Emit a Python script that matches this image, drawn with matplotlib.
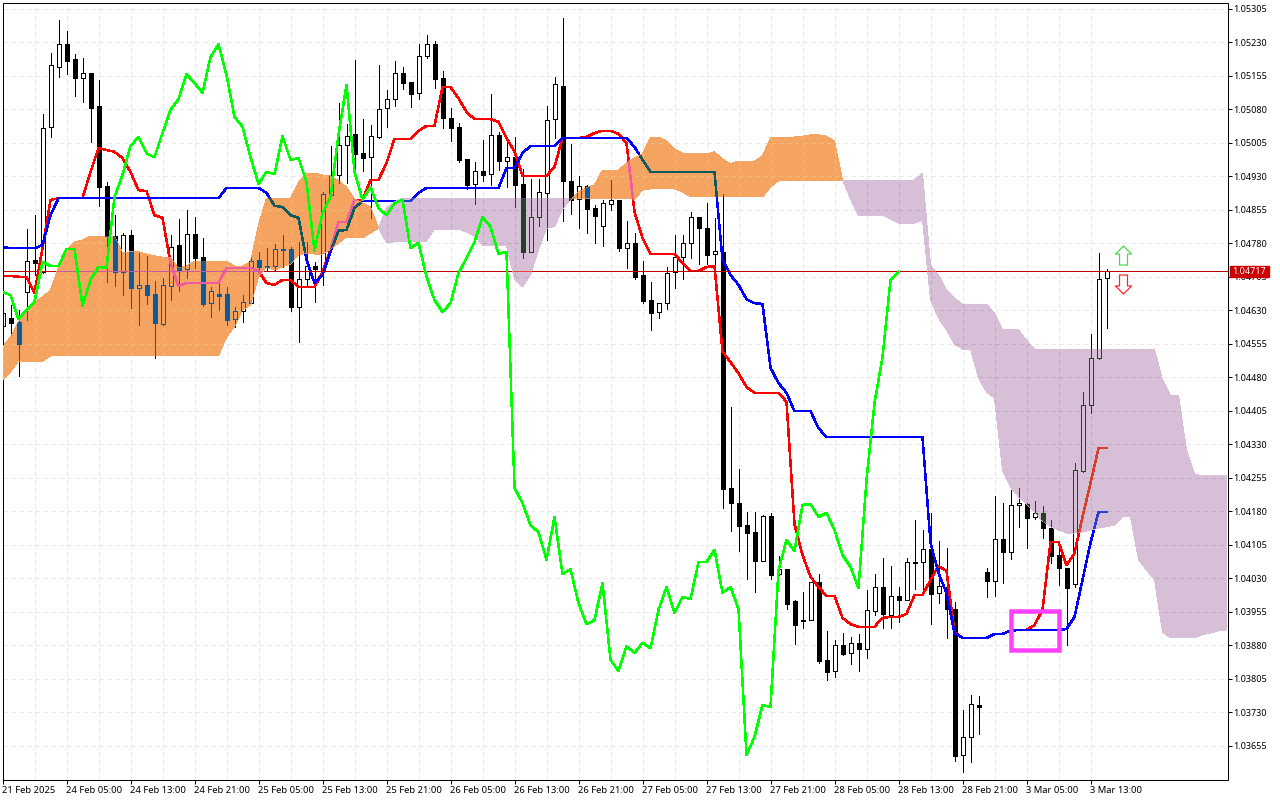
import numpy as np
import matplotlib
matplotlib.use('Agg')
import matplotlib.pyplot as plt
from matplotlib.path import Path
from matplotlib.patches import Rectangle

plt.rcParams['font.family'] = ['Noto Sans', 'DejaVu Sans']

# H1 candles, prices in points (1e-5)
opens = [104595, 104613, 104604, 104671, 104743, 104716, 105041, 105175, 105226, 105193,
         105150, 105161, 105088, 104908, 104796, 104716, 104799, 104680, 104687, 104666,
         104599, 104684, 104776, 104722, 104801, 104749, 104646, 104666, 104666, 104610,
         104628, 104646, 104743, 104729, 104729, 104765, 104767, 104637, 104700, 104729,
         104720, 104888, 104933, 105000, 105025, 104982, 104973, 105018, 105083, 105103,
         105161, 105141, 105117, 105200, 105226, 105150, 105061, 105041, 104969, 104913,
         104942, 104935, 105023, 104964, 104973, 104913, 104761, 104839, 104893, 105058,
         105132, 104920, 104879, 104908, 104859, 104819, 104868, 104877, 104769, 104781,
         104709, 104653, 104626, 104646, 104716, 104749, 104781, 104839, 104814, 104756,
         104761, 104232, 104198, 104149, 104133, 104068, 104169, 104039, 104050, 103979,
         103936, 103936, 104021, 103847, 103822, 103880, 103862, 103885, 103871, 103956,
         104010, 103947, 103990, 103981, 104064, 104066, 104095, 103997, 104010, 103961,
         103634, 103674, 103746, 104044, 104024, 104118, 104089, 104194, 104196, 104167,
         104176, 104142, 104082, 104053, 104017, 104270, 104418, 104523, 104702]
highs = [104640, 104642, 104631, 104812, 104843, 105070, 105206, 105280, 105256, 105204,
         105195, 105161, 105146, 104917, 104843, 104803, 104810, 104758, 104752, 104696,
         104702, 104799, 104834, 104855, 104839, 104792, 104682, 104698, 104682, 104637,
         104664, 104749, 104761, 104769, 104778, 104799, 104772, 104783, 104783, 104738,
         104895, 104998, 105094, 105047, 105191, 105058, 105045, 105179, 105123, 105188,
         105175, 105141, 105226, 105247, 105233, 105166, 105083, 105049, 104969, 104962,
         105011, 105114, 105029, 105005, 105018, 104946, 104924, 104924, 105088, 105153,
         105285, 105002, 104931, 104911, 104866, 104877, 104922, 104877, 104830, 104803,
         104740, 104693, 104646, 104727, 104799, 104799, 104850, 104839, 104870, 104837,
         104890, 104413, 104274, 104178, 104178, 104171, 104176, 104080, 104050, 103981,
         103999, 104021, 104039, 103912, 103891, 103907, 103898, 103905, 104003, 104039,
         104075, 104057, 104010, 104075, 104160, 104138, 104176, 104113, 104097, 103977,
         103735, 103768, 103766, 104053, 104214, 104198, 104227, 104232, 104198, 104203,
         104192, 104160, 104097, 104053, 104288, 104447, 104577, 104758, 104722]
lows = [104575, 104575, 104483, 104608, 104709, 104713, 105018, 105153, 105159, 105110,
        105097, 105007, 104864, 104693, 104684, 104664, 104635, 104597, 104644, 104523,
        104597, 104653, 104673, 104702, 104725, 104640, 104615, 104631, 104597, 104593,
        104604, 104646, 104716, 104720, 104718, 104727, 104628, 104559, 104682, 104649,
        104687, 104884, 104915, 104915, 104946, 104942, 104837, 105016, 105041, 105088,
        105126, 105085, 105103, 105195, 105128, 105038, 105009, 104962, 104902, 104868,
        104920, 104911, 104944, 104906, 104861, 104747, 104761, 104819, 104787, 105016,
        104830, 104846, 104814, 104803, 104781, 104774, 104855, 104763, 104725, 104700,
        104646, 104586, 104613, 104633, 104680, 104700, 104747, 104734, 104734, 104720,
        104187, 104136, 104091, 104028, 103999, 104068, 104028, 104037, 103961, 103882,
        103918, 103936, 103840, 103802, 103809, 103858, 103838, 103822, 103851, 103947,
        103918, 103918, 103932, 103981, 104006, 104003, 103927, 103974, 103896, 103620,
        103596, 103618, 103681, 103988, 103990, 104019, 104073, 104145, 104097, 104162,
        104120, 104064, 104015, 103880, 104010, 104268, 104400, 104521, 104590]
closes = [104624, 104601, 104554, 104740, 104736, 105038, 105179, 105226, 105188, 105150,
          105161, 105083, 104906, 104796, 104716, 104799, 104680, 104687, 104664, 104601,
          104687, 104772, 104720, 104801, 104747, 104644, 104673, 104662, 104608, 104628,
          104649, 104740, 104727, 104727, 104767, 104767, 104637, 104700, 104729, 104722,
          104890, 104933, 105000, 105020, 104980, 104971, 105020, 105081, 105103, 105161,
          105139, 105114, 105200, 105226, 105148, 105061, 105038, 104967, 104911, 104942,
          104933, 105023, 104964, 104973, 104911, 104761, 104839, 104895, 105056, 105137,
          104920, 104877, 104908, 104857, 104841, 104870, 104877, 104769, 104781, 104705,
          104651, 104624, 104646, 104713, 104749, 104781, 104839, 104814, 104754, 104763,
          104230, 104198, 104147, 104131, 104068, 104169, 104037, 104050, 103972, 103925,
          103934, 104021, 103844, 103820, 103880, 103860, 103885, 103871, 103959, 104010,
          103950, 103990, 103981, 104066, 104066, 104095, 103994, 104012, 103961, 103632,
          103674, 103748, 103741, 104024, 104118, 104089, 104194, 104198, 104165, 104176,
          104142, 104080, 104053, 104008, 104272, 104418, 104523, 104700, 104717]

# Ichimoku lines
tenkan = [104707, 104707, 104705, 104705, 104669, 104769, 104877, 104881, 104881, 104881,
          104881, 104940, 104993, 104989, 104985, 104971, 104940, 104899, 104897, 104843,
          104837, 104736, 104684, 104691, 104691, 104691, 104691, 104691, 104725, 104725,
          104725, 104725, 104718, 104691, 104687, 104698, 104698, 104682, 104682, 104682,
          104716, 104765, 104828, 104828, 104877, 104877, 104922, 104922, 104960, 105014,
          105014, 105014, 105032, 105043, 105043, 105130, 105130, 105105, 105074, 105058,
          105058, 105058, 105052, 105016, 104985, 104931, 104931, 104931, 104931, 104951,
          105016, 105016, 105016, 105018, 105027, 105032, 105032, 105025, 105005, 104850,
          104792, 104756, 104756, 104756, 104756, 104736, 104718, 104718, 104727, 104729,
          104537, 104514, 104489, 104458, 104445, 104445, 104445, 104445, 104425, 104151,
          104082, 104033, 104010, 103990, 103990, 103941, 103927, 103921, 103921, 103921,
          103941, 103943, 103943, 103950, 103992, 103992, 104026, 104057, 104046, 103909,
          103896, 103896, 103896, 103896, 103905, 103905, 103912, 103914, 103914, 103925,
          103959, 104111, 104111, 104059, 104086, 104167, 104243, 104321, 104321]
kijun = [104772, 104769, 104769, 104769, 104769, 104776, 104843, 104881, 104881, 104881,
         104881, 104881, 104881, 104881, 104881, 104881, 104881, 104881, 104881, 104881,
         104881, 104881, 104881, 104881, 104881, 104881, 104881, 104881, 104904, 104904,
         104904, 104904, 104904, 104893, 104864, 104861, 104843, 104837, 104743, 104691,
         104709, 104761, 104808, 104810, 104859, 104875, 104875, 104875, 104875, 104875,
         104875, 104875, 104893, 104904, 104904, 104904, 104904, 104904, 104904, 104904,
         104904, 104904, 104904, 104949, 104949, 104982, 104998, 104998, 104998, 104998,
         105016, 105016, 105016, 105016, 105016, 105016, 105016, 105016, 105016, 104996,
         104967, 104940, 104940, 104940, 104940, 104940, 104940, 104940, 104940, 104940,
         104743, 104709, 104687, 104655, 104646, 104644, 104501, 104467, 104445, 104404,
         104404, 104404, 104366, 104346, 104346, 104346, 104346, 104346, 104346, 104346,
         104346, 104346, 104346, 104346, 104346, 104346, 104109, 104041, 103997, 103907,
         103896, 103896, 103896, 103896, 103905, 103905, 103912, 103914, 103914, 103914,
         103914, 103914, 103914, 103916, 103943, 104026, 104109, 104178, 104178]
chikou = [104671, 104664, 104610, 104631, 104649, 104738, 104729, 104729, 104767, 104767,
          104640, 104698, 104727, 104725, 104884, 104933, 104998, 105018, 104982, 104973,
          105027, 105079, 105103, 105159, 105139, 105117, 105197, 105226, 105157, 105063,
          105041, 104973, 104913, 104940, 104935, 105020, 104967, 104971, 104917, 104763,
          104848, 104884, 105023, 105135, 104940, 104877, 104906, 104859, 104843, 104870,
          104877, 104769, 104781, 104705, 104653, 104626, 104646, 104713, 104747, 104783,
          104839, 104817, 104756, 104761, 104232, 104198, 104149, 104133, 104071, 104167,
          104039, 104050, 103974, 103927, 103936, 104019, 103847, 103822, 103878, 103862,
          103885, 103873, 103959, 104010, 103952, 103988, 103983, 104066, 104066, 104093,
          103997, 104010, 103961, 103634, 103674, 103746, 103741, 104048, 104115, 104091,
          104194, 104196, 104167, 104176, 104138, 104082, 104055, 104008, 104250, 104422,
          104525, 104698, 104716]
span_a = [104548, 104570, 104604, 104626, 104649, 104660, 104675, 104727, 104765, 104783,
          104787, 104796, 104796, 104796, 104796, 104758, 104761, 104761, 104756, 104752,
          104749, 104747, 104725, 104729, 104740, 104740, 104740, 104740, 104740, 104729,
          104729, 104738, 104821, 104881, 104881, 104881, 104881, 104917, 104937, 104937,
          104933, 104931, 104920, 104906, 104879, 104870, 104861, 104814, 104781, 104783,
          104783, 104785, 104785, 104785, 104812, 104812, 104812, 104812, 104805, 104796,
          104776, 104774, 104774, 104774, 104700, 104682, 104709, 104765, 104814, 104817,
          104857, 104877, 104895, 104904, 104911, 104944, 104944, 104944, 104960, 104971,
          104980, 105018, 105018, 105009, 104991, 104982, 104982, 104982, 104980, 104985,
          104969, 104958, 104964, 104964, 104964, 104976, 105016, 105018, 105018, 105018,
          105020, 105023, 105023, 105020, 105009, 104922, 104879, 104843, 104843, 104843,
          104843, 104834, 104825, 104825, 104825, 104832, 104653, 104613, 104586, 104554,
          104543, 104543, 104478, 104447, 104433, 104272, 104234, 104212, 104196, 104178,
          104158, 104145, 104138, 104131, 104131, 104133, 104138, 104142, 104145, 104149,
          104167, 104167, 104071, 104048, 104026, 103909, 103896, 103896, 103896, 103896,
          103903, 103907, 103912, 103914]
span_b = [104474, 104492, 104516, 104516, 104516, 104516, 104528, 104528, 104528, 104528,
          104528, 104528, 104528, 104528, 104528, 104528, 104528, 104528, 104528, 104528,
          104528, 104528, 104528, 104528, 104528, 104528, 104528, 104528, 104570, 104593,
          104631, 104642, 104705, 104727, 104720, 104727, 104734, 104754, 104758, 104756,
          104756, 104767, 104781, 104794, 104794, 104792, 104803, 104814, 104859, 104873,
          104881, 104881, 104881, 104881, 104881, 104881, 104881, 104881, 104881, 104881,
          104881, 104881, 104881, 104881, 104881, 104881, 104881, 104881, 104881, 104881,
          104881, 104881, 104881, 104881, 104881, 104881, 104881, 104881, 104881, 104879,
          104899, 104902, 104902, 104902, 104902, 104895, 104884, 104884, 104884, 104884,
          104884, 104884, 104884, 104884, 104884, 104884, 104906, 104920, 104920, 104920,
          104920, 104920, 104920, 104920, 104920, 104920, 104920, 104920, 104920, 104920,
          104920, 104920, 104920, 104920, 104922, 104937, 104731, 104709, 104675, 104657,
          104644, 104644, 104644, 104644, 104624, 104586, 104586, 104586, 104563, 104543,
          104543, 104543, 104543, 104543, 104543, 104543, 104543, 104543, 104543, 104543,
          104543, 104543, 104543, 104543, 104543, 104474, 104440, 104440, 104317, 104263,
          104259, 104259, 104259, 104259]

# axis labels
price_ticks = [1.05305, 1.05230, 1.05155, 1.05080, 1.05005, 1.04930, 1.04855, 1.04780,
               1.04705, 1.04630, 1.04555, 1.04480, 1.04405, 1.04330, 1.04255, 1.04180,
               1.04105, 1.04030, 1.03955, 1.03880, 1.03805, 1.03730, 1.03655]
time_labels = ['21 Feb 2025', '24 Feb 05:00', '24 Feb 13:00', '24 Feb 21:00', '25 Feb 05:00',
               '25 Feb 13:00', '25 Feb 21:00', '26 Feb 05:00', '26 Feb 13:00', '26 Feb 21:00',
               '27 Feb 05:00', '27 Feb 13:00', '27 Feb 21:00', '28 Feb 05:00', '28 Feb 13:00',
               '28 Feb 21:00', '3 Mar 05:00', '3 Mar 13:00']
last_price = 1.04717

opens, highs, lows, closes = [np.array(s) / 1e5 for s in (opens, highs, lows, closes)]
tenkan, kijun, chikou = [np.array(s) / 1e5 for s in (tenkan, kijun, chikou)]
span_a, span_b = np.array(span_a) / 1e5, np.array(span_b) / 1e5
bars = np.arange(len(opens))
cloud_bars = np.arange(len(span_a))

W, H = 1280, 800
fig = plt.figure(figsize=(W / 100, H / 100), dpi=100, facecolor='white')
ax = fig.add_axes([2.5 / W, (H - 779.5) / H, 1225 / W, 777 / H])
ax.set_xlim(0, 153.125)
y_top, y_bottom = 1.053194, 1.035789
ax.set_ylim(y_bottom, y_top)

PX = 0.72  # one pixel in points
LINE_W = 1.5 * PX
GRID = '#E6E6E6'
PRICE_LINE = '#C00000'
FONT_Y, FONT_X = 6.5, 6.8


def xor(color, mask):
    # the terminal paints the cloud by xor, so what lies under it changes colour
    if mask is None:
        return color
    return '#%06X' % (int(color[1:], 16) ^ mask)


def draw_layer(mask, z, clip=None):
    arts = []
    grid = xor(GRID, mask)
    arts.append(ax.hlines(price_ticks, 0, 153.125, colors=grid, lw=PX, linestyles=(0, (4, 4)), zorder=z))
    arts.append(ax.vlines(bars[::4], y_bottom, y_top, colors=grid, lw=PX, linestyles=(0, (4, 4)), zorder=z))
    ink = xor('#000000', mask)
    paper = xor('#FFFFFF', mask)
    wicks = ax.vlines(bars, lows, highs, colors=ink, lw=PX, zorder=z + 0.1, antialiased=False)
    arts.append(wicks)
    up = closes >= opens
    body = ax.bar(bars, np.abs(closes - opens), bottom=np.minimum(opens, closes), width=0.5,
                  color=[paper if u else ink for u in up], edgecolor=ink, linewidth=PX,
                  zorder=z + 0.2, antialiased=False)
    arts.extend(body.patches)
    for vals, col in ((tenkan, '#FF0000'), (kijun, '#0000FF')):
        arts.extend(ax.plot(bars, vals, color=xor(col, mask), lw=LINE_W, zorder=z + 0.3, antialiased=False))
    arts.append(ax.axhline(last_price, color=xor(PRICE_LINE, mask), lw=PX, zorder=z + 0.4))
    if clip is not None:
        for a in arts:
            a.set_clip_path(clip, ax.transData)


draw_layer(None, 1)

# kumo
kumo_up = ax.fill_between(cloud_bars, span_a, span_b, where=span_a >= span_b, interpolate=True,
                          color='#F4A460', lw=0, zorder=5, antialiased=False)
kumo_down = ax.fill_between(cloud_bars, span_a, span_b, where=span_a <= span_b, interpolate=True,
                            color='#D8BFD8', lw=0, zorder=5, antialiased=False)
draw_layer(0x0B5B9F, 6, Path.make_compound_path(*kumo_up.get_paths()))
draw_layer(0x274027, 6, Path.make_compound_path(*kumo_down.get_paths()))

ax.plot(bars[:len(chikou)], chikou, color='#00FF00', lw=LINE_W, zorder=10, antialiased=False)

# marked area
ax.add_patch(Rectangle((126, 1.03869), 6, 0.00087, fill=False, edgecolor='#FF40FF', lw=4.5 * PX, zorder=11))

# up and down arrows
up_arrow = Path([(0, 1), (0.85, 0.15), (0.42, 0.15), (0.42, -1), (-0.42, -1), (-0.42, 0.15), (-0.85, 0.15), (0, 1)],
                closed=True)
down_arrow = Path([(0, -1), (0.85, -0.15), (0.42, -0.15), (0.42, 1), (-0.42, 1), (-0.42, -0.15), (-0.85, -0.15), (0, -1)],
                  closed=True)
ax.plot([140], [1.04753], marker=up_arrow, ms=13.7, mfc='white', mec='#44DD44', mew=1.2 * PX, zorder=12)
ax.plot([140], [1.04688], marker=down_arrow, ms=13.7, mfc='white', mec='#FF2222', mew=1.2 * PX, zorder=12)

# axes
for s in ax.spines.values():
    s.set_linewidth(PX)
    s.set_color('black')
ax.yaxis.tick_right()
ax.set_yticks(price_ticks)
ax.set_yticklabels(['%.5f' % p for p in price_ticks])
ax.set_xticks(bars[::8][:len(time_labels)])
ax.set_xticklabels(time_labels, ha='left')
ax.tick_params(axis='y', length=2.9, width=PX, pad=1.5, labelsize=FONT_Y)
ax.tick_params(axis='x', length=2.9, width=PX, pad=1.5, labelsize=FONT_X)

# current price tag
ax.add_patch(Rectangle((1.0018, last_price - 0.00012), 39 / 1225, 0.00024, transform=ax.get_yaxis_transform(),
                       color='#CC0000', clip_on=False, zorder=20))
ax.text(1 + 21.5 / 1225, last_price, '%.5f' % last_price, transform=ax.get_yaxis_transform(), color='white',
        fontsize=FONT_Y, ha='center', va='center', zorder=21, clip_on=False)

fig.savefig('out.png', dpi=100)
